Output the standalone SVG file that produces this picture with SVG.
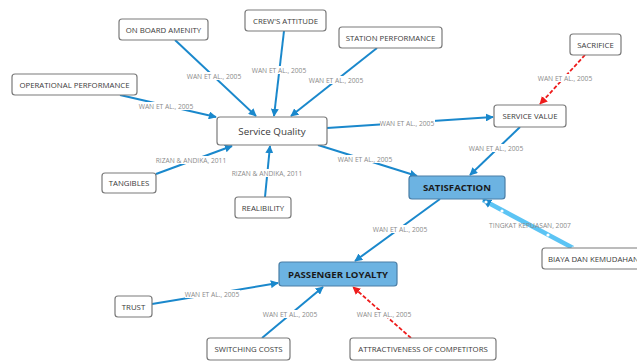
<svg xmlns="http://www.w3.org/2000/svg" width="637" height="363" viewBox="0 0 637 363">
<style>
.n rect{fill:#fff;stroke:#7a7a7a;stroke-width:1.2}
.n text{font-family:"Open Sans","Liberation Sans",sans-serif;font-size:7.8px;fill:#3a3a3a;text-anchor:middle;dominant-baseline:central}
.k rect{fill:#6cb3e2;stroke:#4a7ea6;stroke-width:1.2}
.k text{font-family:"Open Sans","Liberation Sans",sans-serif;font-size:9.6px;font-weight:bold;fill:#1a1a1a;text-anchor:middle;dominant-baseline:central}
.c{fill:none;stroke:#1a88cc;stroke-width:2}
.r{fill:none;stroke:#ee1c1c;stroke-width:1.8;stroke-dasharray:4 2}
.lb rect{fill:#fff}
.lb text{font-family:"Open Sans","Liberation Sans",sans-serif;font-size:6.7px;fill:#8a8a8a;text-anchor:middle;dominant-baseline:central}
</style>
<defs>
<marker id="ab" viewBox="0 0 10 10" refX="9" refY="5" markerWidth="8" markerHeight="8" markerUnits="userSpaceOnUse" orient="auto"><path d="M0,0L10,5L0,10z" fill="#1a88cc"/></marker>
<marker id="ar" viewBox="0 0 10 10" refX="9" refY="5" markerWidth="8" markerHeight="8" markerUnits="userSpaceOnUse" orient="auto"><path d="M0,0L10,5L0,10z" fill="#ee1c1c"/></marker>
<marker id="al" viewBox="0 0 10 10" refX="9" refY="5" markerWidth="9" markerHeight="9" markerUnits="userSpaceOnUse" orient="auto"><path d="M0,0L10,5L0,10z" fill="#1a88cc"/></marker>
</defs>
<g id="connectors">
<path class="c" d="M175,40L256,116" marker-end="url(#ab)"/>
<path class="c" d="M284,31L274,116" marker-end="url(#ab)"/>
<path class="c" d="M377,48L291,116" marker-end="url(#ab)"/>
<path class="c" d="M120,95L216,117" marker-end="url(#ab)"/>
<path class="c" d="M156,174L232,146" marker-end="url(#ab)"/>
<path class="c" d="M265,197L270,146" marker-end="url(#ab)"/>
<path class="c" d="M327,128L493,117" marker-end="url(#ab)"/>
<path class="c" d="M318,145L417,176" marker-end="url(#ab)"/>
<path class="c" d="M520,127L470,175" marker-end="url(#ab)"/>
<path class="r" d="M585,55L540,104" marker-end="url(#ar)"/>
<path class="c" d="M440,199L355,261" marker-end="url(#ab)"/>
<path d="M573,248L483,200" fill="none" stroke="#5cc4f4" stroke-width="4.5" marker-end="url(#al)"/>
<g fill="#fff"><circle cx="486" cy="202" r="1.6"/><circle cx="502" cy="211" r="1.6"/><circle cx="548" cy="235" r="1.6"/><circle cx="573" cy="248" r="1.6"/></g>
<path class="c" d="M152,304L278,283" marker-end="url(#ab)"/>
<path class="c" d="M262,338L323,287" marker-end="url(#ab)"/>
<path class="r" d="M411,338L353,287" marker-end="url(#ar)"/>
</g>
<g id="labels" class="lb">
<rect x="187" y="72" width="55" height="8"/><text x="214" y="76">WAN ET AL., 2005</text>
<rect x="252" y="66" width="55" height="8"/><text x="279" y="70">WAN ET AL., 2005</text>
<rect x="309" y="76" width="55" height="8"/><text x="336" y="80">WAN ET AL., 2005</text>
<rect x="139" y="102" width="55" height="8"/><text x="166" y="106">WAN ET AL., 2005</text>
<rect x="156" y="156" width="70" height="8"/><text x="191" y="160">RIZAN &amp; ANDIKA, 2011</text>
<rect x="232" y="169" width="70" height="8"/><text x="267" y="173">RIZAN &amp; ANDIKA, 2011</text>
<rect x="380" y="119" width="55" height="8"/><text x="407" y="123">WAN ET AL., 2005</text>
<rect x="338" y="155" width="55" height="8"/><text x="365" y="159">WAN ET AL., 2005</text>
<rect x="469" y="144" width="55" height="8"/><text x="496" y="148">WAN ET AL., 2005</text>
<rect x="538" y="74" width="55" height="8"/><text x="565" y="78">WAN ET AL., 2005</text>
<rect x="373" y="225" width="55" height="8"/><text x="400" y="229">WAN ET AL., 2005</text>
<text x="530" y="225">TINGKAT KEPUASAN, 2007</text>
<rect x="185" y="290" width="55" height="8"/><text x="212" y="294">WAN ET AL., 2005</text>
<rect x="263" y="310" width="55" height="8"/><text x="290" y="314">WAN ET AL., 2005</text>
<rect x="357" y="310" width="55" height="8"/><text x="384" y="314">WAN ET AL., 2005</text>
</g>
<g id="on-board-amenity" class="n"><rect x="119" y="19" width="89" height="21" rx="3"/><text x="163.5" y="29.5">ON BOARD AMENITY</text></g>
<g id="crews-attitude" class="n"><rect x="245" y="10" width="81" height="21" rx="3"/><text x="285.5" y="20.5">CREW'S ATTITUDE</text></g>
<g id="station-performance" class="n"><rect x="339" y="27" width="103" height="21" rx="3"/><text x="390.5" y="37.5">STATION PERFORMANCE</text></g>
<g id="sacrifice" class="n"><rect x="570" y="34" width="51" height="21" rx="3"/><text x="595.5" y="44.5">SACRIFICE</text></g>
<g id="operational-performance" class="n"><rect x="12" y="74" width="125" height="21" rx="3"/><text x="74.5" y="84.5">OPERATIONAL PERFORMANCE</text></g>
<g id="service-quality" class="n"><rect x="217" y="117" width="110" height="28" rx="3"/><text x="272" y="131" style="font-size:9.8px">Service Quality</text></g>
<g id="service-value" class="n"><rect x="494" y="105" width="72" height="22" rx="3"/><text x="530" y="116">SERVICE VALUE</text></g>
<g id="satisfaction" class="k"><rect x="409" y="176" width="96" height="23" rx="3"/><text x="457" y="187.5">SATISFACTION</text></g>
<g id="tangibles" class="n"><rect x="102" y="173" width="54" height="20" rx="3"/><text x="129" y="183">TANGIBLES</text></g>
<g id="realibility" class="n"><rect x="235" y="197" width="56" height="21" rx="3"/><text x="263" y="207.5">REALIBILITY</text></g>
<g id="passenger-loyalty" class="k"><rect x="279" y="262" width="118" height="24" rx="3"/><text x="338" y="274">PASSENGER LOYALTY</text></g>
<g id="biaya-dan-kemudahan" class="n"><rect x="542" y="248" width="110" height="21" rx="3"/><text x="548" y="258.5" style="text-anchor:start">BIAYA DAN KEMUDAHAN</text></g>
<g id="trust" class="n"><rect x="115" y="296" width="37" height="21" rx="3"/><text x="133.5" y="306.5">TRUST</text></g>
<g id="switching-costs" class="n"><rect x="207" y="338" width="83" height="22" rx="3"/><text x="248.5" y="349">SWITCHING COSTS</text></g>
<g id="attractiveness-of-competitors" class="n"><rect x="350" y="338" width="146" height="22" rx="3"/><text x="423" y="349">ATTRACTIVENESS OF COMPETITORS</text></g>
</svg>
